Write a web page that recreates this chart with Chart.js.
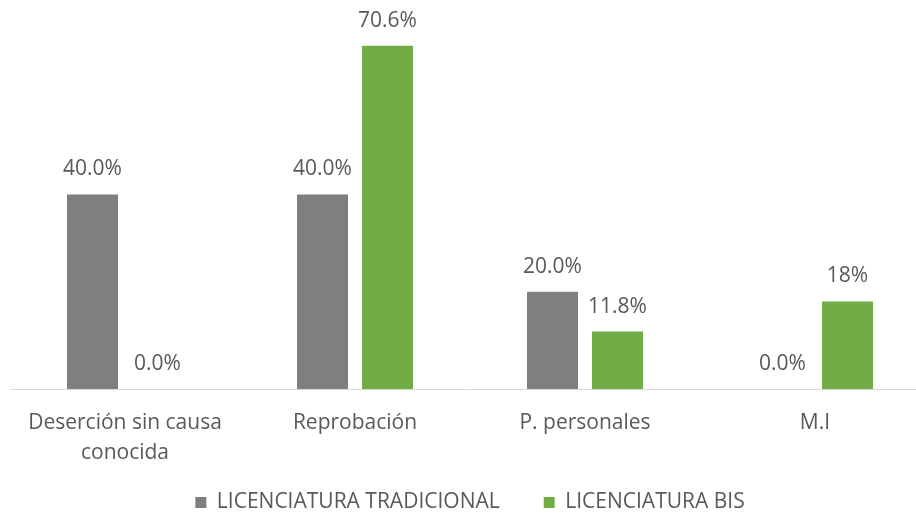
<!DOCTYPE html>
<html>
<head>
<meta charset="utf-8">
<script src="https://cdn.jsdelivr.net/npm/chart.js@4"></script>
<style>
  html, body { margin: 0; padding: 0; background: #fff; overflow: hidden; }
  #wrap { width: 936px; height: 523px; position: relative; }
</style>
</head>
<body>
<div id="wrap"><canvas id="chart"></canvas></div>
<script>
// categories and series
var categories = [['Deserción sin causa', 'conocida'], 'Reprobación', 'P. personales', 'M.I'];
var tradicional = [0.40, 0.40, 0.20, 0.0];
var bis = [0.0, 0.706, 0.118, 0.18];
var tradicionalLabels = ['40.0%', '40.0%', '20.0%', '0.0%'];
var bisLabels = ['0.0%', '70.6%', '11.8%', '18%'];

var textColor = '#595959';
var fontFamily = '"Open Sans", "Liberation Sans", sans-serif';

// draws the value labels above each bar
var valueLabels = {
    id: 'valueLabels',
    afterDatasetsDraw: function (chart) {
        var ctx = chart.ctx;
        ctx.save();
        ctx.font = '21px ' + fontFamily;
        ctx.fillStyle = textColor;
        ctx.textAlign = 'center';
        ctx.textBaseline = 'middle';
        chart.data.datasets.forEach(function (ds, i) {
            var meta = chart.getDatasetMeta(i);
            meta.data.forEach(function (bar, j) {
                ctx.fillText(ds.valueLabels[j], bar.x, bar.y - 25);
            });
        });
        ctx.restore();
    }
};

new Chart(document.getElementById('chart'), {
    type: 'bar',
    data: {
        labels: categories,
        datasets: [{
            label: 'LICENCIATURA TRADICIONAL',
            data: tradicional,
            valueLabels: tradicionalLabels,
            backgroundColor: '#7f7f7f',
            barPercentage: 0.785,
            categoryPercentage: 0.565
        }, {
            label: 'LICENCIATURA BIS',
            data: bis,
            valueLabels: bisLabels,
            backgroundColor: '#70ad47',
            barPercentage: 0.785,
            categoryPercentage: 0.565
        }]
    },
    options: {
        responsive: true,
        maintainAspectRatio: false,
        animation: false,
        layout: {
            padding: { left: 10, right: 6, top: 0, bottom: 0 }
        },
        plugins: {
            legend: {
                position: 'bottom',
                labels: {
                    color: textColor,
                    font: { family: fontFamily, size: 21 },
                    boxWidth: 11,
                    boxHeight: 11,
                    padding: 23,
                    generateLabels: function (chart) {
                        var items = Chart.defaults.plugins.legend.labels.generateLabels(chart);
                        // a trailing em space widens the gap between the two entries
                        items[0].text += '\u2003';
                        return items;
                    }
                }
            },
            tooltip: { enabled: false }
        },
        scales: {
            y: {
                display: false,
                min: 0,
                max: 0.8
            },
            x: {
                grid: { display: true, color: 'rgba(0,0,0,0)', drawTicks: false },
                border: { display: true, color: '#d9d9d9', width: 1 },
                ticks: {
                    color: textColor,
                    font: { family: fontFamily, size: 21, lineHeight: 1.43 },
                    padding: 19,
                    maxRotation: 0
                },
                afterFit: function (scale) {
                    scale.height = 80;
                }
            }
        }
    },
    plugins: [valueLabels]
});
</script>
</body>
</html>
